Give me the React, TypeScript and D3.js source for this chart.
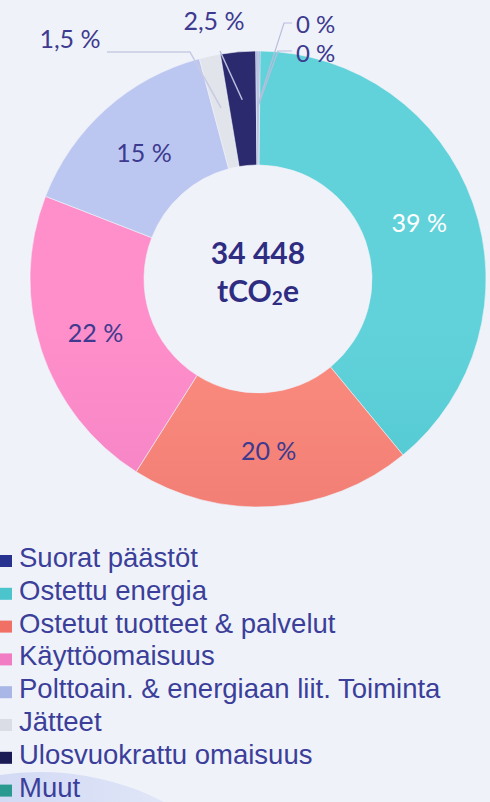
import React from "react";
import * as d3 from "d3";

const categories = [
  "Suorat päästöt",
  "Ostettu energia",
  "Ostetut tuotteet & palvelut",
  "Käyttöomaisuus",
  "Polttoain. & energiaan liit. Toiminta",
  "Jätteet",
  "Ulosvuokrattu omaisuus",
  "Muut",
];
const values = [0.15, 39, 20, 22, 15, 1.5, 2.5, 0.15];
const valueLabels = ["0 %", "39 %", "20 %", "22 %", "15 %", "1,5 %", "2,5 %", "0 %"];
const legendColors = ["#28338f", "#4cc4cc", "#f07066", "#f27cc4", "#a9b7e6", "#dadce6", "#1a1a55", "#2a9990"];
const gradTop = ["#8d9ad0", "#62d2da", "#fb8c80", "#ff8fca", "#bcc7f1", "#e2e4ec", "#2c2a6e", "#9fb0d8"];
const gradBottom = ["#8d9ad0", "#38bac5", "#e56b64", "#e472c0", "#9cace0", "#d3d6e0", "#1c1a52", "#9fb0d8"];
const totalLabel = "34 448";

const W = 490;
const H = 802;
const cx = 258;
const cy = 279;
const R = 228;
const r = 114;

export default function App() {
  const pie = d3.pie<number>().sort(null).value((d) => d);
  const arcs = pie(values);
  const arcGen = d3.arc<d3.PieArcDatum<number>>().innerRadius(r).outerRadius(R);
  const pointAt = (a: d3.PieArcDatum<number>, rad: number) => {
    const m = (a.startAngle + a.endAngle) / 2;
    return [cx + rad * Math.sin(m), cy - rad * Math.cos(m)];
  };
  const textColor = "#3d3a8f";
  const labelFont = "Lato, 'Noto Sans', sans-serif";
  const p5 = pointAt(arcs[5], 175);
  const p6 = pointAt(arcs[6], 180);
  const p0 = pointAt(arcs[0], 175);
  const p7 = pointAt(arcs[7], 172);

  return (
    <svg width={W} height={H} style={{ position: "absolute", left: 0, top: 0, display: "block" }}>
      <defs>
        {arcs.map((_, i) => (
          <linearGradient key={i} id={`g${i}`} gradientUnits="userSpaceOnUse" x1={0} y1={cy - R} x2={0} y2={cy + R}>
            <stop offset="0" stopColor={gradTop[i]} />
            <stop offset="1" stopColor={gradBottom[i]} />
          </linearGradient>
        ))}
        <linearGradient id="blob" x1="0" y1="0" x2="1" y2="0">
          <stop offset="0" stopColor="#c3cdf0" />
          <stop offset="0.6" stopColor="#d9e0f6" />
          <stop offset="1" stopColor="#eef1f9" />
        </linearGradient>
      </defs>
      <rect x={0} y={0} width={W} height={H} fill="#eff2f9" />
      <ellipse cx={40} cy={1000} rx={250} ry={228} fill="url(#blob)" />

      {arcs.map((a, i) => (
        <path
          key={i}
          d={arcGen(a) || ""}
          transform={`translate(${cx},${cy})`}
          fill={`url(#g${i})`}
          stroke="#eef1f9"
          strokeWidth={0.6}
        />
      ))}

      {[1, 2, 3, 4].map((i) => {
        const [x, y] = arcGen.centroid(arcs[i]);
        return (
          <text
            key={i}
            x={cx + x}
            y={cy + y}
            textAnchor="middle"
            dominantBaseline="central"
            fontFamily={labelFont}
            fontSize={25}
            fill={i === 1 ? "#ffffff" : textColor}
          >
            {valueLabels[i]}
          </text>
        );
      })}

      <polyline points={`${p5[0]},${p5[1]} 190,52 107,52`} fill="none" stroke="#c7cbe2" strokeWidth={1.5} />
      <polyline points={`${p6[0]},${p6[1]} 220,51`} fill="none" stroke="#b9bedc" strokeWidth={1.5} />
      <polyline points={`${p7[0]},${p7[1]} 284,23 292,23`} fill="none" stroke="#b9bedc" strokeWidth={1.2} />
      <polyline points={`${p0[0]},${p0[1]} 278,51 292,51`} fill="none" stroke="#b9bedc" strokeWidth={1.2} />

      <text x={70} y={38} textAnchor="middle" dominantBaseline="central" fontFamily={labelFont} fontSize={25} fill={textColor}>
        {valueLabels[5]}
      </text>
      <text x={214} y={20} textAnchor="middle" dominantBaseline="central" fontFamily={labelFont} fontSize={25} fill={textColor}>
        {valueLabels[6]}
      </text>
      <text x={296} y={23} textAnchor="start" dominantBaseline="central" fontFamily={labelFont} fontSize={24} fill={textColor}>
        {valueLabels[7]}
      </text>
      <text x={296} y={52} textAnchor="start" dominantBaseline="central" fontFamily={labelFont} fontSize={24} fill={textColor}>
        {valueLabels[0]}
      </text>

      <text x={cx} y={252} textAnchor="middle" dominantBaseline="central" fontFamily={labelFont} fontWeight="bold" fontSize={30} fill="#2f2d82">
        {totalLabel}
      </text>
      <text x={cx} y={290} textAnchor="middle" dominantBaseline="central" fontFamily={labelFont} fontWeight="bold" fontSize={30} fill="#2f2d82">
        tCO<tspan fontSize={19} dy={7}>2</tspan><tspan dy={-7}>e</tspan>
      </text>

      {categories.map((c, i) => {
        const base = 567 + i * 32.8;
        return (
          <g key={c}>
            <rect x={0} y={base - 12} width={12} height={12} fill={legendColors[i]} />
            <text x={19} y={base} fontFamily="'Liberation Sans', Arial, sans-serif" fontSize={27.5} fill="#3b3f9a">
              {c}
            </text>
          </g>
        );
      })}
    </svg>
  );
}
